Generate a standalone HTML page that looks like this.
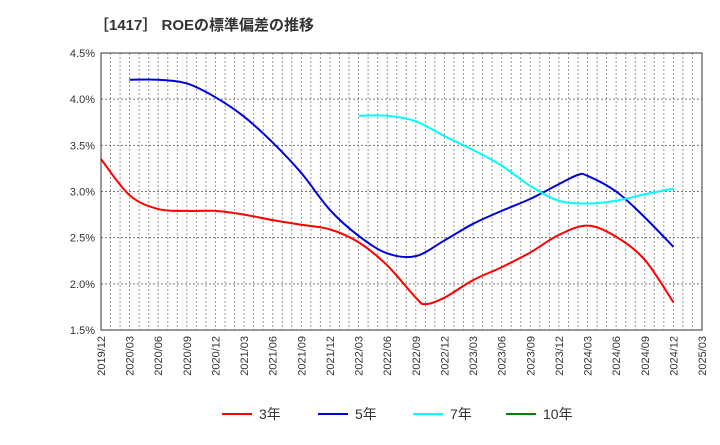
<!DOCTYPE html>
<html><head><meta charset="utf-8">
<style>
body{margin:0;background:#fff;font-family:"Liberation Sans","Noto Sans CJK JP",sans-serif;}
svg text{font-family:"Liberation Sans","Noto Sans CJK JP",sans-serif;}
</style></head>
<body>
<svg id="chart" width="720" height="440" xmlns="http://www.w3.org/2000/svg">
<text x="94" y="30" font-size="15" font-weight="bold" fill="#333">［1417］ ROEの標準偏差の推移</text>
<g id="grid"></g>
<g id="series"></g>
<rect x="101" y="53" width="601" height="277" fill="none" stroke="#333" stroke-width="1"/>
<g id="legend"></g>
</svg>
<script>
const xLabels=["2019/12","2020/03","2020/06","2020/09","2020/12","2021/03","2021/06","2021/09","2021/12","2022/03","2022/06","2022/09","2022/12","2023/03","2023/06","2023/09","2023/12","2024/03","2024/06","2024/09","2024/12","2025/03"];
const yTicks=[1.5,2.0,2.5,3.0,3.5,4.0,4.5];
// month index from 2019/12
const m3=[0,3,6,9,12,15,18,21,24,27,30,33,34,36,39,42,45,48,51,54,57,60];
const v3=[3.35,2.96,2.81,2.79,2.79,2.75,2.69,2.64,2.59,2.45,2.20,1.85,1.78,1.85,2.04,2.18,2.34,2.53,2.63,2.51,2.26,1.80];
const m5=[3,6,9,12,15,18,21,24,27,30,33,36,39,42,45,48,50,51,54,57,60];
const v5=[4.21,4.21,4.17,4.02,3.81,3.53,3.20,2.80,2.52,2.33,2.30,2.47,2.65,2.79,2.92,3.08,3.18,3.17,3.00,2.72,2.40];
const m7=[27,30,33,36,39,42,45,48,51,54,57,60];
const v7=[3.82,3.82,3.76,3.60,3.45,3.28,3.06,2.90,2.87,2.90,2.97,3.03];
const L=101,R=702,T=53,B=330;
const X=m=>L+(R-L)*m/63;
const Y=v=>B-(v-1.5)/3*(B-T);
const NS="http://www.w3.org/2000/svg";
function mk(t,a,p){const e=document.createElementNS(NS,t);for(const k in a)e.setAttribute(k,a[k]);p.appendChild(e);return e;}
const grid=document.getElementById('grid');
for(let m=1;m<63;m++){
 const l=mk('line',{x1:X(m),x2:X(m),y1:T,y2:B,stroke:'#999','stroke-dasharray':'2,2','stroke-width':1},grid);
 
 
}
yTicks.forEach(v=>{
 const l=mk('line',{x1:L,x2:R,y1:Y(v),y2:Y(v),stroke:'#777','stroke-dasharray':'2,2','stroke-width':1},grid);
 
 
 const t=mk('text',{x:L-6,y:Y(v)+4,'text-anchor':'end','font-size':11,fill:'#333'},grid);
 t.textContent=v.toFixed(1)+'%';
 
 
});
xLabels.forEach((s,i)=>{
 const x=X(i*3);
 const t=mk('text',{x:x+4,y:B+6,'text-anchor':'end','font-size':11,fill:'#333',transform:`rotate(-90 ${x+4} ${B+6})`},grid);
 t.textContent=s;
 
 
});
function path(ms,vs){
 const p=ms.map((m,i)=>[X(m),Y(vs[i])]);
 let d=`M${p[0][0]},${p[0][1]}`;
 for(let i=0;i<p.length-1;i++){
  const p0=p[i-1]||p[i],p1=p[i],p2=p[i+1],p3=p[i+2]||p2;
  const c1=[p1[0]+(p2[0]-p0[0])/6,p1[1]+(p2[1]-p0[1])/6];
  const c2=[p2[0]-(p3[0]-p1[0])/6,p2[1]-(p3[1]-p1[1])/6];
  d+=` C${c1[0]},${c1[1]} ${c2[0]},${c2[1]} ${p2[0]},${p2[1]}`;
 }
 return d;
}
const sg=document.getElementById('series');
[[m3,v3,'#ff0000','series-3y'],[m5,v5,'#0000dd','series-5y'],[m7,v7,'#00ffff','series-7y']].forEach(s=>{
 const e=mk('path',{d:path(s[0],s[1]),fill:'none',stroke:s[2],'stroke-width':2},sg);
 
 
});
const lg=document.getElementById('legend');
[['3年','#ff0000',222],['5年','#0000dd',318],['7年','#00ffff',413],['10年','#008000',506]].forEach(s=>{
 const l=mk('line',{x1:s[2],x2:s[2]+30,y1:414,y2:414,stroke:s[1],'stroke-width':2},lg);
 
 
 const t=mk('text',{x:s[2]+37,y:419,'font-size':14,fill:'#333'},lg);
 t.textContent=s[0];
 
 
});
</script>
</body></html>
